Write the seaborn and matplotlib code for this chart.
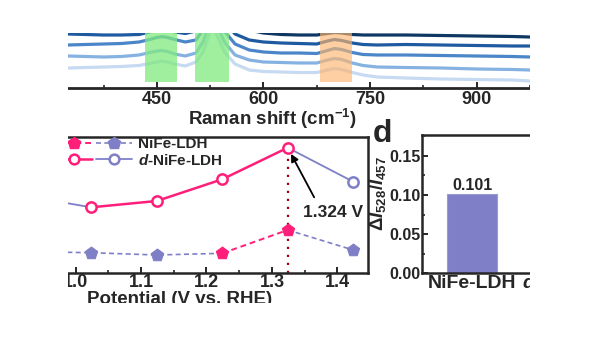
import numpy as np
import pandas as pd
import matplotlib
matplotlib.use("Agg")
import matplotlib.pyplot as plt
import seaborn as sns
from matplotlib.lines import Line2D
from matplotlib.patches import Rectangle
from matplotlib.legend_handler import HandlerTuple
from matplotlib.ticker import MultipleLocator, FormatStrFormatter

# ---------------- data ----------------
# Raman spectra (a.u., stacked)
wavenumber = [325, 350, 375, 400, 425, 440, 450, 457, 465, 475, 490, 505, 515, 522, 528,
              535, 545, 560, 580, 600, 625, 650, 675, 690, 700, 710, 725, 740, 760, 800,
              850, 900, 950, 975]
spec_1 = [64, 63, 62, 62, 62, 64, 66, 67, 66, 64, 63, 66, 77, 90, 102, 92, 76, 62, 58, 55,
          53.5, 53, 53, 54.5, 55.5, 55, 53.5, 53, 53, 53, 52.5, 52, 51.5, 51]
spec_2 = [54, 53.5, 53, 53, 53.5, 56, 58, 59, 58, 56, 54.5, 57, 68, 81, 93, 83, 67, 54, 48, 46,
          45, 44.5, 44, 47, 48.5, 47.5, 45, 43.5, 43, 43.5, 43, 42.5, 42, 42]
spec_3 = [43, 43.5, 44, 44.5, 46, 48.5, 50.5, 51.3, 50.5, 48.5, 46, 48, 58, 71, 83, 73, 57, 44,
          38, 36, 35, 35, 34.5, 37.5, 39.5, 38.5, 35.5, 33.5, 33, 33, 32.5, 32, 31.5, 31]
spec_4 = [32, 31.5, 31, 31.5, 33, 35.5, 37, 37.5, 36.5, 34, 32, 35, 46, 60, 72, 62, 46, 33, 28,
          26, 25.5, 25, 25, 28, 29.5, 28.5, 25, 22.5, 21, 20.5, 20, 19, 18.5, 18]
spec_5 = [20, 20.5, 21, 21.5, 22.5, 24.5, 26, 27, 26, 24, 22, 26, 36, 50, 62, 52, 36, 24, 18,
          16.5, 16, 15.5, 15.5, 18, 19.5, 18.5, 15.5, 13, 11, 10, 9, 8.5, 8, 7]
spec_names = ["s1", "s2", "s3", "s4", "s5"]
band_green = [(433, 479), (503, 552)]
band_orange = [(680, 724)]

# potential-dependent panel (a.u.)
potential = [0.924, 1.024, 1.124, 1.224, 1.324, 1.424]
nife_vals = [21.4, 20.3, 18.0, 19.7, 43.0, 23.0]
dnife_vals = [76.9, 65.7, 72.0, 93.7, 125.3, 91.3]
nife_active = [False, False, False, True, True, False]
dnife_active = [False, True, True, True, True, False]

# bar panel
bar_cats = ["NiFe-LDH", r"$\mathit{d}$-NiFe-LDH"]
bar_vals = [0.101, 0.150]

# ---------------- style ----------------
sns.set_style("ticks")
plt.rcParams["font.family"] = ["Liberation Sans", "DejaVu Sans"]
plt.rcParams["font.weight"] = "bold"
plt.rcParams["axes.labelweight"] = "bold"
plt.rcParams["mathtext.fontset"] = "custom"
plt.rcParams["mathtext.rm"] = "Liberation Sans:bold"
plt.rcParams["mathtext.bf"] = "Liberation Sans:bold"
plt.rcParams["mathtext.it"] = "Liberation Sans:italic:bold"
plt.rcParams["axes.linewidth"] = 1.6

PINK = "#FF1F7A"
PURPLE = "#7F7FC8"
spec_colors = ["#0f3764", "#1e5aa0", "#4a86c8", "#86b2e2", "#c6daf1"]

W, H = 600, 338
fig = plt.figure(figsize=(6, 3.38), dpi=100)


def px_rect(l, t, r, b):
    return [l / W, 1 - b / H, (r - l) / W, (b - t) / H]


# ---------------- top: Raman ----------------
ax_t = fig.add_axes(px_rect(68, 0, 530, 88))
rows = []
for name, s in zip(spec_names, [spec_1, spec_2, spec_3, spec_4, spec_5]):
    for w, v in zip(wavenumber, s):
        rows.append((name, w, v))
df_spec = pd.DataFrame(rows, columns=["sample", "wn", "I"])
sns.lineplot(data=df_spec, x="wn", y="I", hue="sample", palette=spec_colors,
             estimator=None, sort=False, legend=False, lw=2.3, ax=ax_t)
for lo, hi in band_green:
    ax_t.axvspan(lo, hi, ymin=6 / 88, ymax=1, color="#7FEA7F", alpha=0.75, lw=0, zorder=3)
for lo, hi in band_orange:
    ax_t.axvspan(lo, hi, ymin=6 / 88, ymax=1, color="#FDB670", alpha=0.65, lw=0, zorder=3)
ax_t.set_xlim(325, 975)
ax_t.set_ylim(0, 88)
ax_t.set_yticks([])
ax_t.set_ylabel("")
ax_t.xaxis.set_major_locator(MultipleLocator(150))
ax_t.xaxis.set_minor_locator(MultipleLocator(75))
ax_t.tick_params(axis="x", which="major", direction="in", length=4, width=1.4,
                 labelsize=13, pad=2)
ax_t.tick_params(axis="x", which="minor", direction="in", length=2.5, width=1.2)
for sp in ["top", "left", "right"]:
    ax_t.spines[sp].set_visible(False)
ax_t.spines["bottom"].set_linewidth(2)
ax_t.set_xlabel("Raman shift (cm$^{-1}$)", fontsize=13.5)
ax_t.xaxis.set_label_coords((272 - 68) / 462, -0.22)

# ---------------- bottom-left: potential ----------------
ax_c = fig.add_axes(px_rect(-8, 137, 368, 273))
ax_c.set_xlim(0.8725, 1.4466)
ax_c.set_ylim(0, 136)

peak_i = int(np.argmax(dnife_vals))
ax_c.axvline(potential[peak_i], color="#A00010", ls=(0, (1, 2.6)), lw=1.6, zorder=1)


def runs(active):
    out = []
    n = len(active)
    for i in range(n - 1):
        c = active[i] and active[i + 1]
        if out and out[-1][2] == c:
            out[-1][1] = i + 1
        else:
            out.append([i, i + 1, c])
    return out


for vals, active, ls, lw_hi, lw_lo in [
    (nife_vals, nife_active, (0, (3, 2)), 1.4, 1.2),
    (dnife_vals, dnife_active, "-", 1.8, 1.3),
]:
    for s, e, hi in runs(active):
        sns.lineplot(x=potential[s:e + 1], y=vals[s:e + 1], color=PINK if hi else PURPLE,
                     linestyle=ls, lw=lw_hi if hi else lw_lo, ax=ax_c, zorder=2)

for i, p in enumerate(potential):
    c1 = PINK if nife_active[i] else PURPLE
    sns.scatterplot(x=[p], y=[nife_vals[i]], marker="p", s=85, color=c1,
                    edgecolor=c1, linewidth=0.8, ax=ax_c, zorder=4)
    c2 = PINK if dnife_active[i] else PURPLE
    sns.scatterplot(x=[p], y=[dnife_vals[i]], marker="o", s=55, color="white",
                    edgecolor=c2, linewidth=1.8, ax=ax_c, zorder=4)

ax_c.annotate(f"{potential[peak_i]:.3f} V", xy=(potential[peak_i], dnife_vals[peak_i]),
              xytext=(33, -47), textcoords="offset points", ha="center", va="center",
              fontsize=12.5, fontweight="bold",
              arrowprops=dict(arrowstyle="-|>", color="black", lw=1.3, shrinkA=4,
                              shrinkB=5, relpos=(0.25, 1.0), mutation_scale=11))

ax_c.xaxis.set_major_locator(MultipleLocator(0.1))
ax_c.xaxis.set_minor_locator(MultipleLocator(0.05))
ax_c.xaxis.set_major_formatter(FormatStrFormatter("%.1f"))
ax_c.tick_params(axis="x", which="major", direction="in", length=4, width=1.4,
                 labelsize=13, pad=1)
ax_c.tick_params(axis="x", which="minor", direction="in", length=2.5, width=1.2)
ax_c.set_yticks([])
ax_c.set_ylabel("")
for sp in ax_c.spines.values():
    sp.set_linewidth(1.8)
ax_c.set_xlabel("Potential (V vs. RHE)", fontsize=13.5, labelpad=0)

leg_handles = [
    (Line2D([], [], color=PINK, ls=(0, (3, 2)), lw=1.4, marker="p", ms=9, mfc=PINK, mec=PINK),
     Line2D([], [], color=PURPLE, ls=(0, (3, 2)), lw=1.2, marker="p", ms=9, mfc=PURPLE, mec=PURPLE)),
    (Line2D([], [], color=PINK, ls="-", lw=1.8, marker="o", ms=7, mfc="white", mec=PINK, mew=1.8),
     Line2D([], [], color=PURPLE, ls="-", lw=1.3, marker="o", ms=7, mfc="white", mec=PURPLE, mew=1.8)),
]
ax_c.legend(leg_handles, ["NiFe-LDH", r"$\mathit{d}$-NiFe-LDH"],
            handler_map={tuple: HandlerTuple(ndivide=None, pad=0.3)},
            frameon=False, loc="upper left", bbox_to_anchor=((56 + 8) / 376, 1.0),
            borderaxespad=0, borderpad=0, handlelength=5.0, handletextpad=0.35,
            labelspacing=0.12, prop=dict(size=11, weight="bold"))

# ---------------- bottom-right: bars ----------------
ax_d = fig.add_axes(px_rect(421.7, 135, 648, 273.3))
df_bar = pd.DataFrame({"cat": bar_cats, "val": bar_vals})
sns.barplot(data=df_bar, x="cat", y="val", color=PURPLE, width=0.48, saturation=1,
            edgecolor="#9a9ad6", linewidth=0.8, ax=ax_d)
ax_d.bar_label(ax_d.containers[0], fmt="%.3f", padding=1, fontsize=11.5, fontweight="bold")
ax_d.set_xlim(-0.484, 1.692)
ax_d.set_ylim(0, 0.1765)
ax_d.yaxis.set_major_locator(MultipleLocator(0.05))
ax_d.yaxis.set_minor_locator(MultipleLocator(0.025))
ax_d.yaxis.set_major_formatter(FormatStrFormatter("%.2f"))
ax_d.tick_params(axis="y", which="major", direction="in", length=4, width=1.4,
                 labelsize=11.5, pad=1)
ax_d.tick_params(axis="y", which="minor", direction="in", length=2.5, width=1.2)
ax_d.tick_params(axis="x", length=0, labelsize=14, pad=1)
ax_d.set_xlabel("")
ax_d.spines["right"].set_visible(False)
for sp in ax_d.spines.values():
    sp.set_linewidth(1.8)
ax_d.set_ylabel(r"$\mathit{\Delta I}_{528}/\mathit{I}_{457}$", fontsize=13.5)
ax_d.yaxis.set_label_coords(-0.15, 0.58)

fig.text(373 / W, 1 - 142 / H, "d", fontsize=23, fontweight="bold", ha="left", va="baseline")

# ---------------- crop masks (the reference is a cut-out) ----------------
for (l, t, r, b) in [(0, 0, 68, H), (530, 0, W, H), (0, 0, W, 33), (0, 303, W, H)]:
    fig.add_artist(Rectangle((l / W, 1 - b / H), (r - l) / W, (b - t) / H,
                             transform=fig.transFigure, fc="white", ec="none", zorder=100))

fig.savefig("out.png", dpi=100)
